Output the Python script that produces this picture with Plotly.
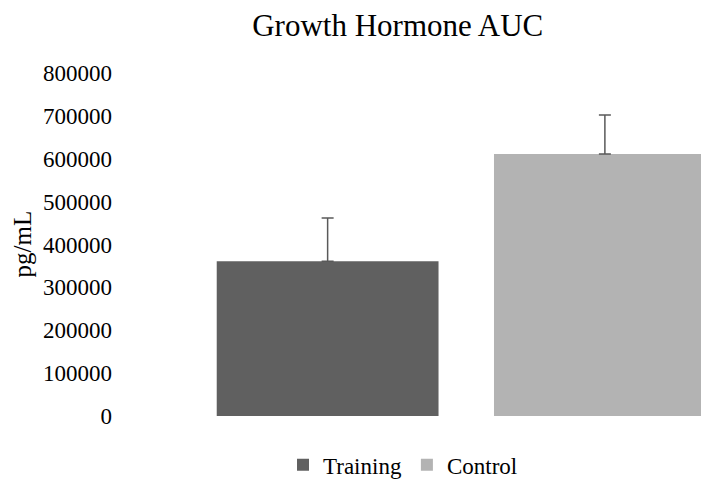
import plotly.graph_objects as go

GROUPS = ["Training", "Control"]
AUC_MEAN = [361000, 611000]
AUC_ERR = [101000, 91000]
BAR_COLORS = {"Training": "#606060", "Control": "#b3b3b3"}

FONT = "Liberation Serif"

fig = go.Figure()
for i, g in enumerate(GROUPS):
    fig.add_trace(go.Bar(
        x=[i],
        y=[AUC_MEAN[i]],
        name=g,
        width=0.8,
        marker_color=BAR_COLORS[g],
        marker_line_width=0,
        error_y=dict(type="data", array=[AUC_ERR[i]], symmetric=False,
                     arrayminus=[0], color="#595959", thickness=1.5, width=6),
    ))

# y axis title placed by hand, plotly puts it too close to the ticks
fig.add_annotation(text="pg/mL", textangle=-90, xref="paper", yref="paper",
                   x=0, y=0.5, xanchor="center", yanchor="middle", xshift=-167,
                   borderpad=0, showarrow=False,
                   font=dict(size=25, family=FONT, color="#000000"))

# page body has an 8px margin, so the figure is 8px smaller each way
fig.update_layout(
    width=701,
    height=472,
    paper_bgcolor="white",
    plot_bgcolor="white",
    font=dict(family=FONT, size=23, color="#000000"),
    title=dict(text="Growth Hormone AUC", x=0.556, xanchor="center",
               y=0.963, yanchor="middle", font=dict(size=31, family=FONT)),
    margin=dict(l=181, r=0, t=65, b=64),
    barmode="group",
    showlegend=True,
    legend=dict(orientation="h", xref="container", x=0.5635, xanchor="center",
                yref="container", y=0.032, yanchor="middle", itemwidth=30,
                font=dict(size=23, family=FONT, color="#000000")),
    xaxis=dict(range=[-0.5, 1.3755], showticklabels=False, showgrid=False,
               zeroline=False, showline=False, ticks=""),
    yaxis=dict(range=[0, 800000], dtick=100000, tickformat="d", showgrid=False,
               zeroline=False, showline=False, ticklabelstandoff=76,
               tickfont=dict(size=23, family=FONT, color="#000000")),
)

fig.write_html("out.html")
